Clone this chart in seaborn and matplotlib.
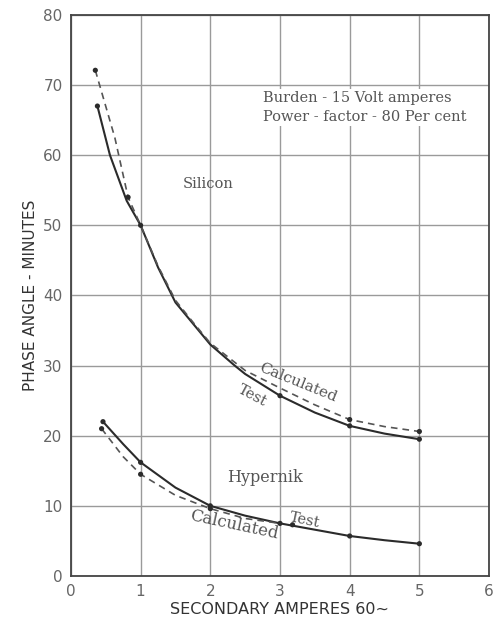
import numpy as np
import seaborn as sns
import matplotlib.pyplot as plt

# curves
si_test_x = [0.38, 0.56, 0.8, 1.0, 1.25, 1.5, 1.75, 2.0, 2.35, 2.5, 3.0, 3.5, 4.0, 4.5, 5.0]
si_test_y = [67.0, 60.0, 53.5, 50.0, 44.0, 39.0, 36.0, 33.0, 30.0, 28.8, 25.7, 23.3, 21.4, 20.3, 19.5]
si_calc_x = [0.35, 0.63, 0.82, 1.0, 1.25, 1.5, 1.75, 2.0, 2.5, 3.0, 3.5, 4.0, 4.5, 5.0]
si_calc_y = [72.1, 62.5, 54.0, 50.0, 44.2, 39.3, 36.2, 33.2, 29.3, 26.8, 24.4, 22.3, 21.3, 20.6]
hy_test_x = [0.46, 0.75, 1.0, 1.5, 2.0, 2.5, 3.0, 3.5, 4.0, 4.5, 5.0]
hy_test_y = [22.0, 18.8, 16.2, 12.6, 10.0, 8.6, 7.5, 6.6, 5.7, 5.1, 4.6]
hy_calc_x = [0.44, 0.75, 1.0, 1.5, 2.0, 2.5, 3.0]
hy_calc_y = [21.0, 17.0, 14.5, 11.5, 9.6, 8.2, 7.5]

# measured points (dots)
si_test_px = [0.38, 1.0, 3.0, 4.0, 5.0]
si_test_py = [67.0, 50.0, 25.7, 21.4, 19.5]
si_calc_px = [0.35, 0.82, 4.0, 5.0]
si_calc_py = [72.1, 54.0, 22.3, 20.6]
hy_test_px = [0.46, 1.0, 2.0, 3.0, 3.18, 4.0, 5.0]
hy_test_py = [22.0, 16.2, 10.0, 7.5, 7.3, 5.7, 4.6]
hy_calc_px = [0.44, 1.0, 2.0]
hy_calc_py = [21.0, 14.5, 9.6]

x_ticks = [0, 1, 2, 3, 4, 5, 6]
y_ticks = [0, 10, 20, 30, 40, 50, 60, 70, 80]

sns.set_style("white")
plt.rcParams['font.family'] = ['DejaVu Sans']

fig = plt.figure(figsize=(4.96, 6.2), dpi=100)
ax = fig.add_axes([0.143, 0.071, 0.843, 0.905])

ink = "#2b2b2b"
soft = "#555555"

sns.lineplot(x=si_test_x, y=si_test_y, ax=ax, color=ink, lw=1.5, sort=False)
sns.lineplot(x=si_calc_x, y=si_calc_y, ax=ax, color=soft, lw=1.2, linestyle=(0, (4, 3)), sort=False)
sns.lineplot(x=hy_test_x, y=hy_test_y, ax=ax, color=ink, lw=1.5, sort=False)
sns.lineplot(x=hy_calc_x, y=hy_calc_y, ax=ax, color=soft, lw=1.2, linestyle=(0, (4, 3)), sort=False)

for px, py in [(si_test_px, si_test_py), (si_calc_px, si_calc_py),
               (hy_test_px, hy_test_py), (hy_calc_px, hy_calc_py)]:
    sns.scatterplot(x=px, y=py, ax=ax, color=ink, s=14, edgecolor="none", zorder=4)

ax.set_xlim(0, 6)
ax.set_ylim(0, 80)
ax.set_xticks(x_ticks)
ax.set_yticks(y_ticks)
ax.grid(True, color="#9a9a9a", lw=1.0)
ax.set_axisbelow(True)
for sp in ax.spines.values():
    sp.set_color("#444444")
    sp.set_linewidth(1.3)
ax.tick_params(length=0, labelsize=11, labelcolor="#666666", pad=6)

ax.set_xlabel("SECONDARY AMPERES 60~", fontsize=11.5, color="#333333", labelpad=2)
ax.set_ylabel("PHASE ANGLE - MINUTES", fontsize=11, color="#333333", labelpad=4)

serif = ['DejaVu Serif']
tc = "#555555"
ax.text(2.76, 66.8, "Burden - 15 Volt amperes\nPower - factor - 80 Per cent",
        family=serif, fontsize=10.5, color=tc, va="center", linespacing=1.4,
        bbox=dict(facecolor="white", edgecolor="none", pad=1.5))
ax.text(1.6, 55.9, "Silicon", family=serif, fontsize=10.5, color=tc, va="center")
ax.text(2.24, 14.0, "Hypernik", family=serif, fontsize=11.5, color=tc, va="center")
ax.text(3.26, 27.6, "Calculated", family=serif, fontsize=11, color=tc, rotation=-22,
        ha="center", va="center")
ax.text(2.6, 25.7, "Test", family=serif, fontsize=10.5, color=tc, rotation=-28,
        ha="center", va="center")
ax.text(2.34, 7.3, "Calculated", family=serif, fontsize=12, color=tc, rotation=-12,
        ha="center", va="center")
ax.text(3.35, 8.0, "Test", family=serif, fontsize=10.5, color=tc, rotation=-12,
        ha="center", va="center")

fig.savefig("out.png", dpi=100)
